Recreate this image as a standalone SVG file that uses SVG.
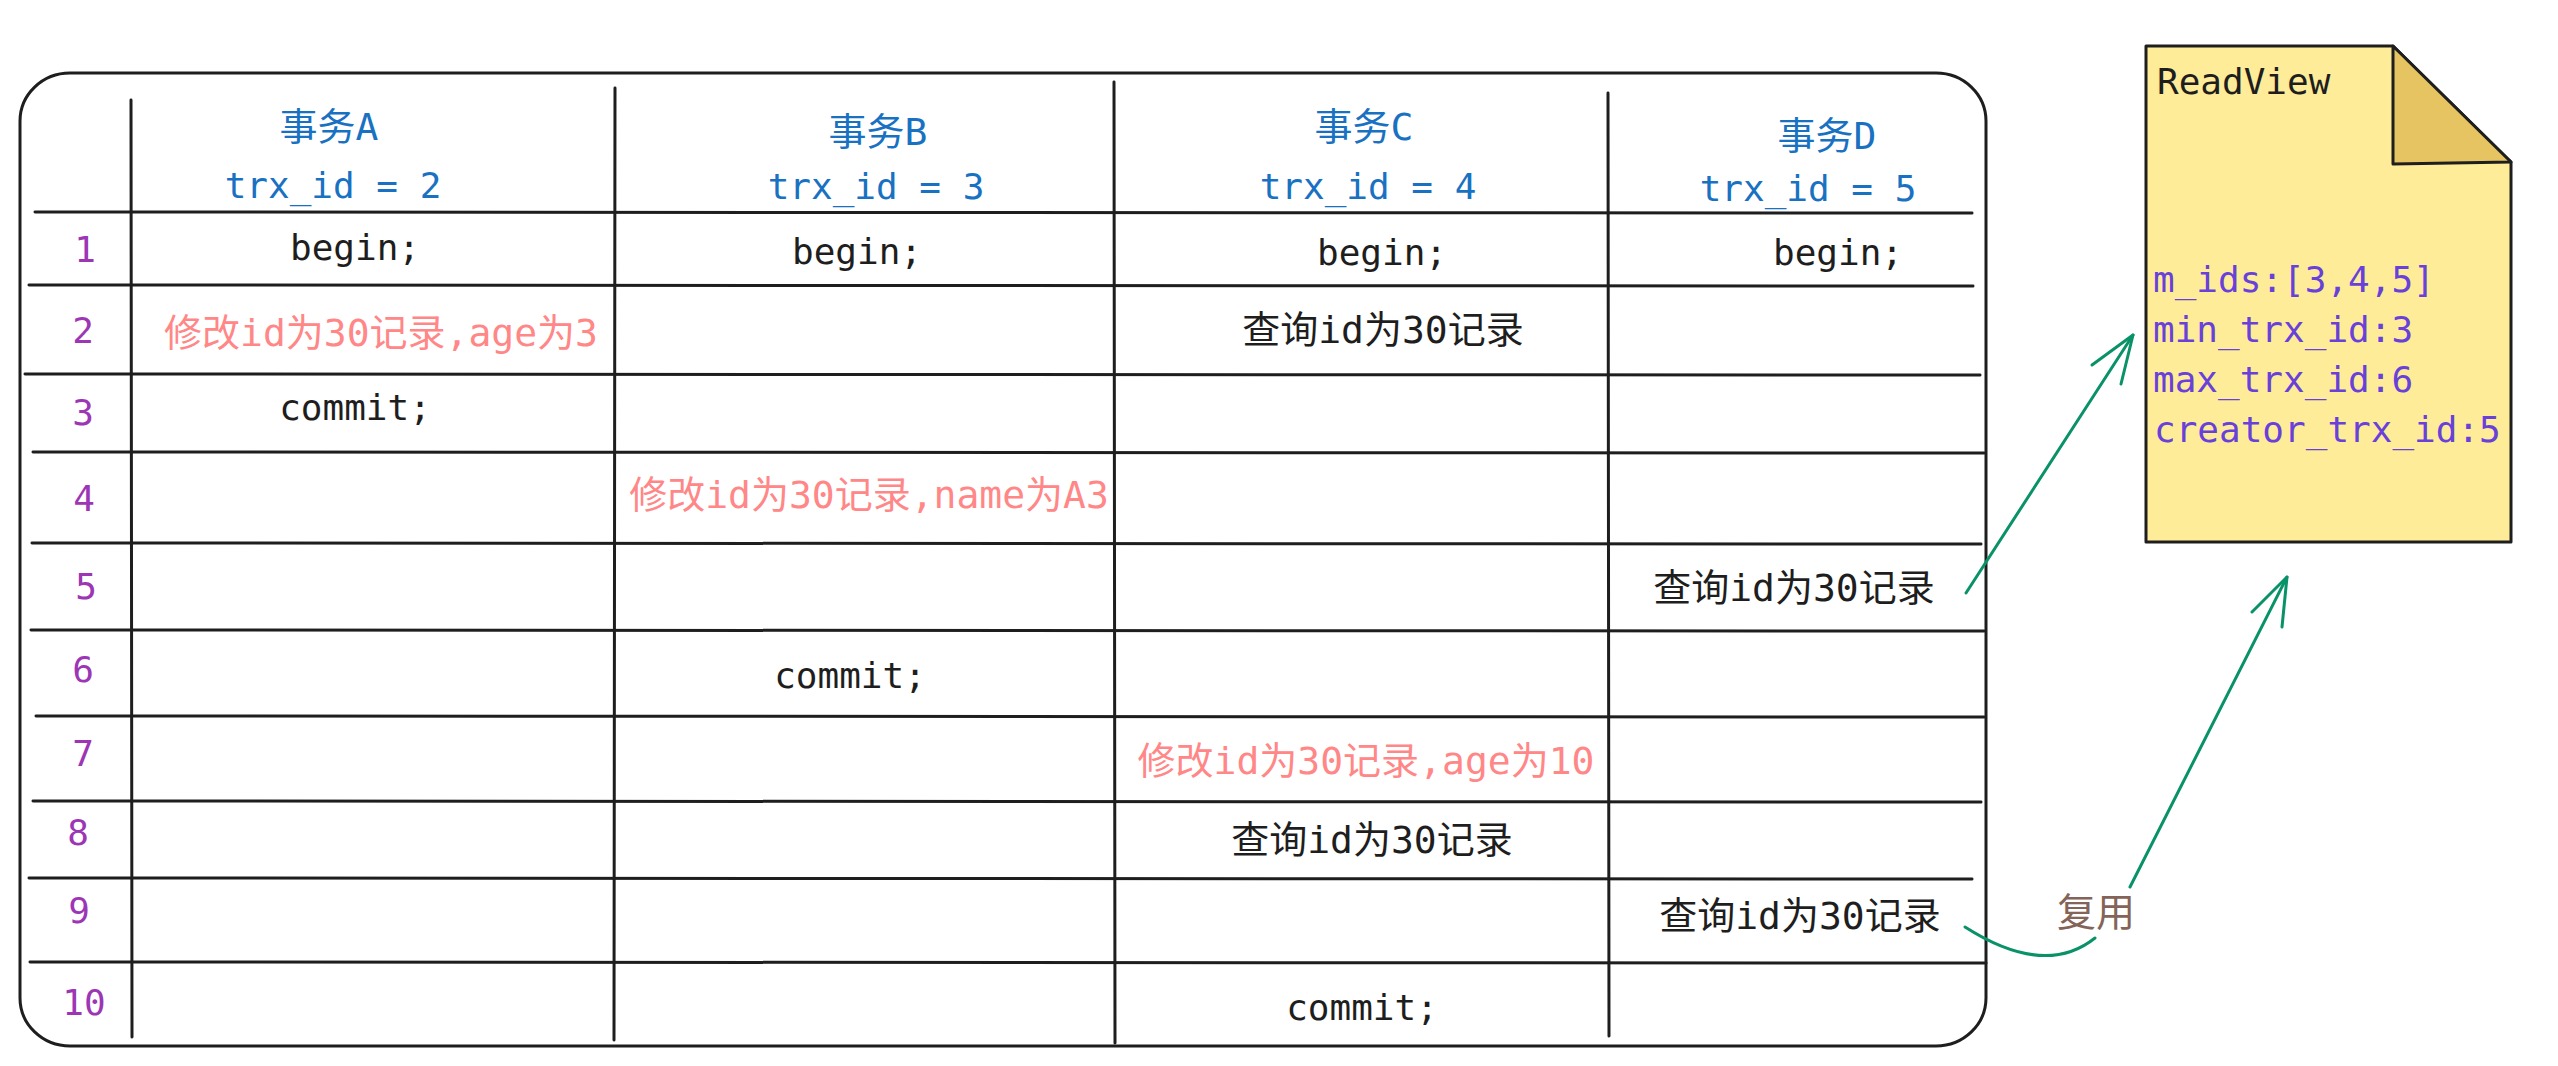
<svg xmlns="http://www.w3.org/2000/svg" width="2558" height="1066" viewBox="0 0 2558 1066">
  <style>
    .grid { stroke: #1e1e1e; stroke-width: 3; fill: none; stroke-linecap: round; }
    .t { font-family: "DejaVu Sans Mono", "Noto Sans CJK SC", monospace; text-anchor: middle; }
    .lat { font-size: 36px; fill: #1e1e1e; }
    .cjk { font-size: 38px; fill: #1e1e1e; }
    .red { font-size: 38px; fill: #ff8787; }
    .hd { font-size: 38px; fill: #1971c2; }
    .hid { font-size: 36px; fill: #1971c2; }
    .num { font-size: 36px; fill: #9c36b5; }
    .rv { font-family: "DejaVu Sans Mono", monospace; font-size: 36px; fill: #6741d9; }
    .arrow { stroke: #099268; stroke-width: 3; fill: none; stroke-linecap: round; stroke-linejoin: round; }
  </style>
  <rect width="2558" height="1066" fill="#ffffff"/>

  <g id="table">
    <rect class="grid" x="20" y="73" width="1966" height="973" rx="50" ry="48"/>
    <line class="grid" x1="35" y1="212" x2="1972" y2="213"/>
    <line class="grid" x1="29" y1="285" x2="1973" y2="286"/>
    <line class="grid" x1="25" y1="374" x2="1980" y2="375"/>
    <line class="grid" x1="33" y1="452" x2="1984" y2="453"/>
    <line class="grid" x1="32" y1="543" x2="1981" y2="544"/>
    <line class="grid" x1="31" y1="630" x2="1984" y2="631"/>
    <line class="grid" x1="36" y1="716" x2="1984" y2="717"/>
    <line class="grid" x1="33" y1="801" x2="1981" y2="802"/>
    <line class="grid" x1="29" y1="878" x2="1972" y2="879"/>
    <line class="grid" x1="30" y1="962" x2="1986" y2="963"/>
    <line class="grid" x1="131" y1="100" x2="132" y2="1037"/>
    <line class="grid" x1="615" y1="88" x2="614" y2="1040"/>
    <line class="grid" x1="1114" y1="82" x2="1115" y2="1043"/>
    <line class="grid" x1="1608" y1="93" x2="1609" y2="1036"/>
  </g>

  <g id="row-numbers">
    <text class="t num" x="85" y="262">1</text>
    <text class="t num" x="83" y="343">2</text>
    <text class="t num" x="83" y="425">3</text>
    <text class="t num" x="84" y="511">4</text>
    <text class="t num" x="86" y="599">5</text>
    <text class="t num" x="83" y="682">6</text>
    <text class="t num" x="83" y="766">7</text>
    <text class="t num" x="78" y="845">8</text>
    <text class="t num" x="79" y="923">9</text>
    <text class="t num" x="84" y="1015">10</text>
  </g>

  <g id="header-A">
    <text class="t hd" x="329" y="140">事务A</text>
    <text class="t hid" x="333" y="198">trx_id = 2</text>
  </g>
  <g id="header-B">
    <text class="t hd" x="878" y="145">事务B</text>
    <text class="t hid" x="876" y="199">trx_id = 3</text>
  </g>
  <g id="header-C">
    <text class="t hd" x="1364" y="140">事务C</text>
    <text class="t hid" x="1368" y="199">trx_id = 4</text>
  </g>
  <g id="header-D">
    <text class="t hd" x="1827" y="149">事务D</text>
    <text class="t hid" x="1808" y="201">trx_id = 5</text>
  </g>

  <g id="cell-A1"><text class="t lat" x="355" y="260">begin;</text></g>
  <g id="cell-B1"><text class="t lat" x="857" y="264">begin;</text></g>
  <g id="cell-C1"><text class="t lat" x="1382" y="265">begin;</text></g>
  <g id="cell-D1"><text class="t lat" x="1838" y="265">begin;</text></g>
  <g id="cell-A2"><text class="t red" x="381" y="346">修改id为30记录,age为3</text></g>
  <g id="cell-C2"><text class="t cjk" x="1383" y="343">查询id为30记录</text></g>
  <g id="cell-A3"><text class="t lat" x="355" y="420">commit;</text></g>
  <g id="cell-B4"><text class="t red" x="869" y="508">修改id为30记录,name为A3</text></g>
  <g id="cell-D5"><text class="t cjk" x="1794" y="601">查询id为30记录</text></g>
  <g id="cell-B6"><text class="t lat" x="850" y="688">commit;</text></g>
  <g id="cell-C7"><text class="t red" x="1366" y="774">修改id为30记录,age为10</text></g>
  <g id="cell-C8"><text class="t cjk" x="1372" y="853">查询id为30记录</text></g>
  <g id="cell-D9"><text class="t cjk" x="1800" y="929">查询id为30记录</text></g>
  <g id="cell-C10"><text class="t lat" x="1362" y="1020">commit;</text></g>

  <g id="readview">
    <path d="M2146,46 L2393,46 L2511,162 L2511,542 L2146,542 Z" fill="#ffec99" stroke="#1e1e1e" stroke-width="3" stroke-linejoin="round"/>
    <path d="M2393,46 L2393,164 L2511,162 Z" fill="#e6c462" stroke="#1e1e1e" stroke-width="3" stroke-linejoin="round"/>
    <text x="2157" y="94" font-family="DejaVu Sans Mono, monospace" font-size="36" fill="#1e1e1e">ReadView</text>
    <text class="rv" x="2153" y="292">m_ids:[3,4,5]</text>
    <text class="rv" x="2153" y="342">min_trx_id:3</text>
    <text class="rv" x="2153" y="392">max_trx_id:6</text>
    <text class="rv" x="2154" y="442">creator_trx_id:5</text>
  </g>

  <g id="connectors">
    <path class="arrow" d="M1966,593 L2133,335"/>
    <path class="arrow" d="M2092,365 L2133,335 L2121,384"/>
    <path class="arrow" d="M1965,927 Q2045,978 2095,938"/>
    <path class="arrow" d="M2130,887 L2287,577"/>
    <path class="arrow" d="M2252,612 L2287,577 L2282,627"/>
    <text x="2096" y="926" font-family="Noto Sans CJK SC, sans-serif" font-size="39" fill="#846358" text-anchor="middle">复用</text>
  </g>
</svg>
